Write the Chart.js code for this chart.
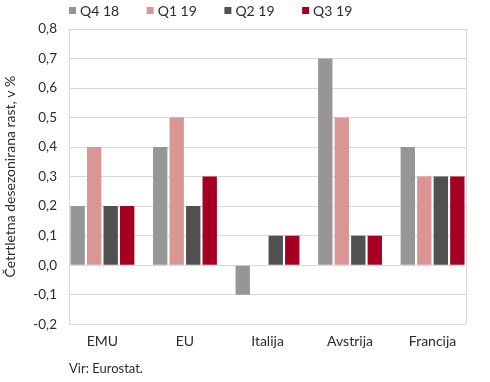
<!DOCTYPE html>
<html><head><meta charset="utf-8">
<script src="https://cdn.jsdelivr.net/npm/chart.js@4/dist/chart.umd.min.js"></script>
<style>html,body{margin:0;padding:0;background:#fff}#wrap{width:490px;height:382px}</style>
</head><body><div id="wrap"><canvas id="c" width="490" height="382"></canvas></div>
<script>
const categories = ['EMU', 'EU', 'Italija', 'Avstrija', 'Francija'];
const seriesNames = ['Q4 18', 'Q1 19', 'Q2 19', 'Q3 19'];
const q4_18 = [0.2, 0.4, -0.1, 0.7, 0.4];
const q1_19 = [0.4, 0.5, 0.0, 0.5, 0.3];
const q2_19 = [0.2, 0.2, 0.1, 0.1, 0.3];
const q3_19 = [0.2, 0.3, 0.1, 0.1, 0.3];
const yTicks = [-0.2, -0.1, 0.0, 0.1, 0.2, 0.3, 0.4, 0.5, 0.6, 0.7, 0.8];
const yTitle = 'Četrtletna desezonirana rast, v %';
const sourceText = 'Vir: Eurostat.';

const colors = ['#969696', '#DA9694', '#505050', '#A50021'];
const FONT = 'Lato';
const TEXT = '#2b2b2b';
const GRID = '#d9d9d9';

const seriesValues = [q4_18, q1_19, q2_19, q3_19];
const datasets = seriesValues.map((vals, s) => ({
  label: seriesNames[s],
  data: vals.map((v, i) => ({x: i, y: v})),
  backgroundColor: colors[s],
  borderWidth: 0,
  categoryPercentage: 0.80,
  barPercentage: 0.87
}));

const decor = {
  id: 'decor',
  afterDraw(chart) {
    const ctx = chart.ctx, a = chart.chartArea;
    ctx.save();
    ctx.strokeStyle = GRID; ctx.lineWidth = 1;
    ctx.beginPath();
    ctx.moveTo(Math.round(a.right) + 0.5, a.top);
    ctx.lineTo(Math.round(a.right) + 0.5, a.bottom);
    ctx.stroke();
    ctx.font = '14px ' + FONT;
    ctx.textBaseline = 'middle';
    ctx.textAlign = 'left';
    chart.data.datasets.forEach((d, i) => {
      const x = a.left + i * 77.7;
      ctx.fillStyle = d.backgroundColor;
      ctx.fillRect(x, 7, 7, 7);
      ctx.fillStyle = TEXT;
      ctx.fillText(d.label, x + 11, 11);
    });
    ctx.font = '13px ' + FONT;
    ctx.fillText(sourceText, a.left, chart.height - 13);
    ctx.restore();
  }
};

new Chart(document.getElementById('c'), {
  type: 'bar',
  data: {datasets},
  plugins: [decor],
  options: {
    responsive: false,
    animation: false,
    devicePixelRatio: 1,
    layout: {padding: {top: 29, right: 24, bottom: 23, left: 0}},
    plugins: {legend: {display: false}, tooltip: {enabled: false}},
    scales: {
      x: {
        type: 'linear',
        offset: false,
        min: -0.405,
        max: 4.405,
        afterBuildTicks: s => { s.ticks = categories.map((_, i) => ({value: i})); },
        ticks: {
          callback: v => categories[v],
          color: TEXT,
          font: {family: FONT, size: 14},
          padding: 9,
          maxRotation: 0,
          autoSkip: false
        },
        grid: {display: false, drawTicks: false},
        border: {display: false}
      },
      y: {
        min: -0.2,
        max: 0.8,
        afterBuildTicks: s => { s.ticks = yTicks.map(v => ({value: v})); },
        afterFit: s => { s.width = 69; },
        ticks: {
          callback: v => v.toFixed(1).replace('.', ','),
          color: TEXT,
          font: {family: FONT, size: 13.5},
          padding: 12
        },
        grid: {color: GRID, drawTicks: false},
        border: {display: true, color: GRID},
        title: {
          display: true,
          text: yTitle,
          color: TEXT,
          font: {family: FONT, size: 14},
          padding: {top: 2, bottom: 0}
        }
      }
    }
  }
});
</script>
</body></html>
